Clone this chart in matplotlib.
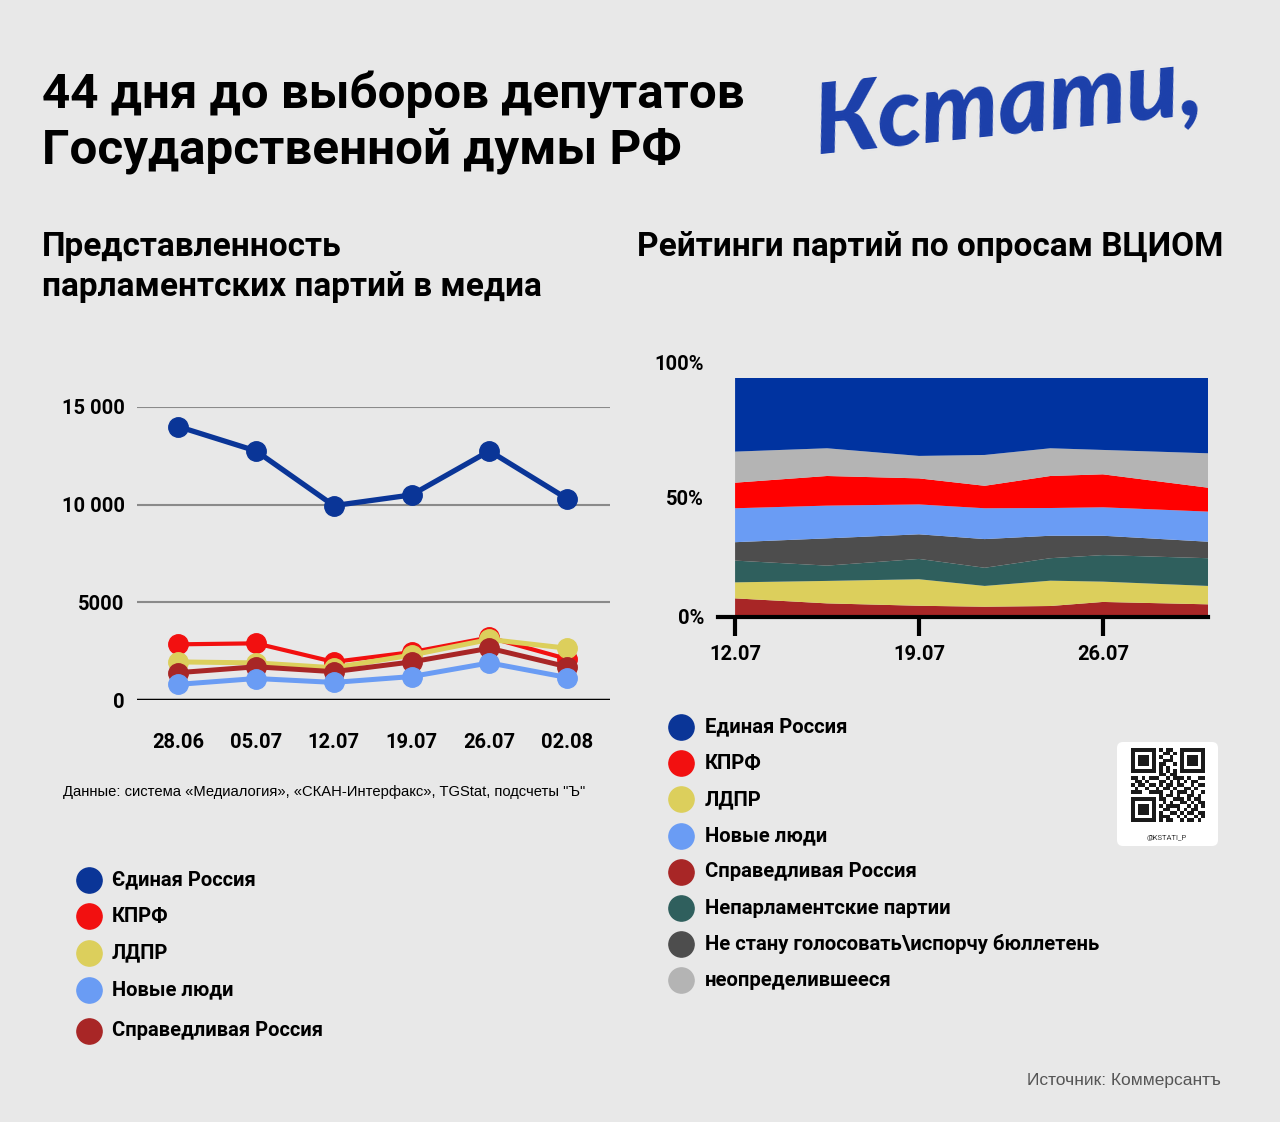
import matplotlib
matplotlib.use("Agg")
import matplotlib.pyplot as plt
import matplotlib.transforms as mtransforms
from matplotlib.patches import FancyBboxPatch, Rectangle

W, H = 1280, 1122
BG = "#e8e8e8"

plt.rcParams['font.family'] = ['Roboto', 'DejaVu Sans']

# --- media mentions, weekly ---
weeks = ["28.06", "05.07", "12.07", "19.07", "26.07", "02.08"]
media_er = [14000, 12750, 9950, 10500, 12750, 10300]
media_kprf = [2850, 2900, 1950, 2450, 3200, 2100]
media_ldpr = [1950, 1900, 1650, 2300, 3100, 2650]
media_sr = [1400, 1700, 1450, 1950, 2650, 1700]
media_nl = [800, 1100, 900, 1200, 1900, 1150]

# --- VCIOM ratings, % (bottom to top of the stack) ---
poll_days = [12, 15.5, 19, 21.5, 24, 26, 30]
poll_ticks = [12, 19, 26]
poll_tick_labels = ["12.07", "19.07", "26.07"]
poll_sr = [7.8, 5.7, 4.7, 4.3, 4.6, 6.3, 5.3]
poll_ldpr = [6.7, 9.4, 11.1, 8.7, 10.6, 8.5, 7.7]
poll_nonparl = [9.1, 6.4, 8.5, 7.6, 9.4, 11.1, 11.6]
poll_novote = [7.7, 11.4, 10.3, 12.0, 9.4, 8.1, 6.9]
poll_nl = [14.2, 13.7, 12.5, 12.9, 11.6, 11.9, 12.6]
poll_kprf = [10.7, 12.4, 10.9, 9.4, 13.4, 13.8, 10.0]
poll_undecided = [13.0, 11.6, 9.4, 12.9, 11.6, 10.2, 14.4]
poll_er = [30.8, 29.4, 32.6, 32.2, 29.4, 30.1, 31.5]

C_ER = "#0a3597"
C_KPRF = "#f21010"
C_LDPR = "#dccf5c"
C_NL = "#6a9cf4"
C_SR = "#a82626"
C_NONPARL = "#2f5f5d"
C_NOVOTE = "#4d4d4d"
C_UNDEC = "#b4b4b4"


def rect(x0, y0, x1, y1):
    return [x0 / W, 1 - y1 / H, (x1 - x0) / W, (y1 - y0) / H]


fig = plt.figure(figsize=(W / 100, H / 100), dpi=100, facecolor=BG)

# overlay in pixel coordinates for texts and decorations
bg = fig.add_axes([0, 0, 1, 1])
bg.set_xlim(0, W)
bg.set_ylim(H, 0)
bg.axis("off")
bg.set_zorder(-1)

bg.text(42, 95, "44 дня до выборов депутатов", fontsize=35.6, fontweight="bold",
        va="center", ha="left")
bg.text(42, 151, "Государственной думы РФ", fontsize=35.6, fontweight="bold",
        va="center", ha="left")
bg.text(1008, 106, "Кстати,", fontsize=70, fontweight="black", style="italic",
        family=["Lato", "DejaVu Sans"], color="#1b3faa", va="center", ha="center",
        rotation=6)

bg.text(42, 247, "Представленность", fontsize=24, fontweight="bold", va="center")
bg.text(42, 287, "парламентских партий в медиа", fontsize=24, fontweight="bold",
        va="center")
bg.text(637, 247, "Рейтинги партий по опросам ВЦИОМ", fontsize=24,
        fontweight="bold", va="center")

bg.text(63, 792, "Данные: система «Медиалогия», «СКАН-Интерфакс», TGStat, подсчеты \"Ъ\"",
        fontsize=10.6, family=["Liberation Sans", "DejaVu Sans"], va="center")
bg.text(1221, 1081, "Источник: Коммерсантъ", fontsize=12.5,
        family=["Liberation Sans", "DejaVu Sans"], color="#555555",
        va="center", ha="right")

# left legend
left_leg = [("Єдиная Россия", C_ER, 880), ("КПРФ", C_KPRF, 916),
            ("ЛДПР", C_LDPR, 953), ("Новые люди", C_NL, 990),
            ("Справедливая Россия", C_SR, 1031)]
for name, col, y in left_leg:
    bg.scatter([89], [y], s=330, color=col, zorder=3)
    bg.text(112, y, name, fontsize=14.5, fontweight="bold", va="center")

# right legend
right_leg = [("Единая Россия", C_ER), ("КПРФ", C_KPRF), ("ЛДПР", C_LDPR),
             ("Новые люди", C_NL), ("Справедливая Россия", C_SR),
             ("Непарламентские партии", C_NONPARL),
             ("Не стану голосовать\\испорчу бюллетень", C_NOVOTE),
             ("неопределившееся", C_UNDEC)]
for i, (name, col) in enumerate(right_leg):
    y = 727 + i * 36.2
    bg.scatter([681], [y], s=330, color=col, zorder=3)
    bg.text(705, y, name, fontsize=14.6, fontweight="bold", va="center")

# QR badge
bg.add_patch(FancyBboxPatch((1117, 742), 101, 104,
                            boxstyle="round,pad=0,rounding_size=6",
                            facecolor="white", edgecolor="none"))
qr = [
    "111111101011001111111",
    "100000100110101000001",
    "101110101001001011101",
    "101110100111001011101",
    "101110101100101011101",
    "100000101010001000001",
    "111111101010101111111",
    "000000001101100000000",
    "110101110010111010011",
    "011010001101010101100",
    "101101101011011001011",
    "010010010110100110100",
    "111001111001011101001",
    "000000001011010011010",
    "111111101100111010110",
    "100000100101001101011",
    "101110101011110010101",
    "101110100110010101100",
    "101110101001101011011",
    "100000101110010100101",
    "111111101011001011010",
]
cell = 74 / len(qr)
for r, row in enumerate(qr):
    for c, v in enumerate(row):
        if v == "1":
            bg.add_patch(Rectangle((1131 + c * cell, 748 + r * cell), cell, cell,
                                   facecolor="#1a1a1a", edgecolor="none"))
bg.text(1167, 838, "@KSTATI_P", fontsize=5.5, color="#333333",
        ha="center", va="center")

# --- left chart: media lines ---
ax = fig.add_axes(rect(137, 407, 610, 700))
ax.set_facecolor("none")
x = list(range(len(weeks)))
for vals, col, lw in [(media_kprf, C_KPRF, 3), (media_ldpr, C_LDPR, 3.6),
                      (media_sr, C_SR, 3.6), (media_nl, C_NL, 3.6),
                      (media_er, C_ER, 3.8)]:
    ax.plot(x, vals, color=col, lw=lw, marker="o", markersize=14,
            clip_on=False, zorder=3)
ax.set_xlim(-0.53, 5.55)
ax.set_ylim(0, 15000)
ax.set_yticks([0, 5000, 10000, 15000])
ax.set_yticklabels(["0", "5000", "10 000", "15 000"])
ax.set_xticks(x)
ax.set_xticklabels(weeks)
ax.grid(axis="y", color="#8a8a8a", lw=1.5)
ax.set_axisbelow(True)
for s in ax.spines.values():
    s.set_visible(False)
ax.axhline(0, color="black", lw=2.5, zorder=2)
ax.tick_params(length=0, labelsize=14.5)
ax.tick_params(axis="y", pad=9)
ax.tick_params(axis="x", pad=24)
for lab in ax.get_xticklabels() + ax.get_yticklabels():
    lab.set_fontweight("bold")

# --- right chart: stacked ratings ---
ax2 = fig.add_axes(rect(718, 378, 1208, 617))
ax2.set_facecolor("none")
ax2.stackplot(poll_days, poll_sr, poll_ldpr, poll_nonparl, poll_novote, poll_nl,
              poll_kprf, poll_undecided, poll_er,
              colors=[C_SR, C_LDPR, C_NONPARL, C_NOVOTE, C_NL, "#ff0000",
                      C_UNDEC, "#0033a0"], lw=0)
ax2.set_xlim(11.35, 30)
ax2.set_ylim(0, 100)
ax2.set_xticks(poll_ticks)
ax2.set_xticklabels(poll_tick_labels)
ax2.set_yticks([0, 50, 100])
ax2.set_yticklabels(["0%", "50%", "100%"])
for side in ["top", "right", "left"]:
    ax2.spines[side].set_visible(False)
ax2.spines["bottom"].set_linewidth(3)
ax2.spines["bottom"].set_zorder(5)
ax2.tick_params(axis="x", length=14, width=3, pad=6, labelsize=14.5)
ax2.tick_params(axis="y", length=0, pad=10, labelsize=14.5)
for lab in ax2.get_xticklabels() + ax2.get_yticklabels():
    lab.set_fontweight("bold")
top_lab = ax2.get_yticklabels()[2]
top_lab.set_transform(top_lab.get_transform() +
                      mtransforms.ScaledTranslation(0, 0.16, fig.dpi_scale_trans))

fig.savefig("out.png", dpi=100, facecolor=BG)
